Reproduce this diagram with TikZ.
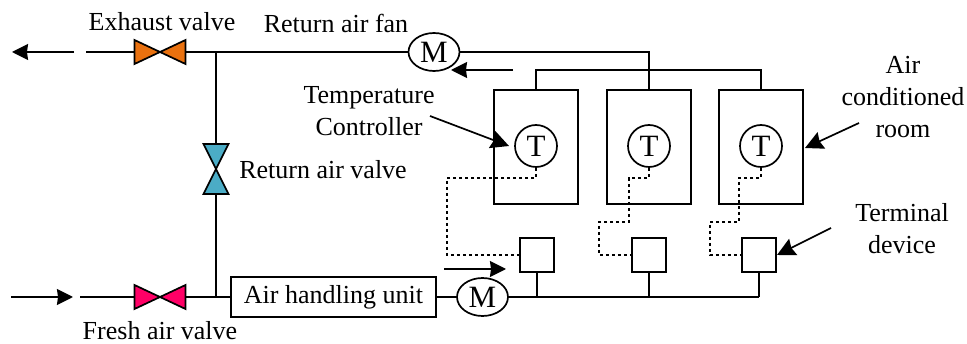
\documentclass[tikz,border=0pt]{standalone}
\usepackage{fontspec}
\setmainfont{Liberation Serif}
\usepackage{xcolor}
\usetikzlibrary{arrows.meta, positioning, calc, shapes.geometric}
\definecolor{exhaustc}{RGB}{233,113,15}
\definecolor{returnc}{RGB}{75,172,198}
\definecolor{freshc}{RGB}{255,0,102}
\tikzset{
  duct/.style={line width=1.7pt, black},
  valve/.style={inner sep=0pt, outer sep=0pt},
  hvalve/.style={valve, minimum width=51pt, minimum height=24pt},
  vvalve/.style={valve, minimum width=25pt, minimum height=50pt},
  room/.style={draw, line width=1.7pt, minimum width=84pt, minimum height=114pt, inner sep=0pt},
  sensor/.style={draw, circle, line width=1.7pt, minimum size=42pt, inner sep=0pt,
                 font=\fontsize{31}{32}\selectfont},
  motor/.style={draw, ellipse, line width=1.7pt, minimum width=51pt, minimum height=38pt, inner sep=0pt,
                font=\fontsize{31}{32}\selectfont},
  terminal/.style={draw, line width=1.7pt, minimum size=34pt, inner sep=0pt},
  label/.style={font=\fontsize{26}{32}\selectfont, align=center, inner sep=0pt},
  flow/.style={-{Stealth[length=16pt, width=16pt, inset=1pt]}, line width=1.7pt},
  leader/.style={-{Stealth[length=18pt, width=18pt, inset=2pt]}, line width=1.7pt},
  signal/.style={line width=1.7pt, dash pattern=on 3pt off 3pt}
}
\begin{document}
\begin{tikzpicture}[x=1pt, y=-1pt]
  \useasboundingbox (0,0) rectangle (967,344);
  \node[hvalve] (exv) at (160,52) {};
  \node[hvalve] (frv) at (160,297) {};
  \node[vvalve] (rev) at (216,169) {};
  \node[motor] (fan) at (434,52) {M};
  \node[motor] (sup) at (482.5,297) {M};
  \node[draw, line width=1.7pt, minimum width=205pt, minimum height=40pt, inner sep=0pt,
        font=\fontsize{26}{30}\selectfont] (ahu) at (333.5,297) {Air handling unit};
  \foreach \n/\x in {1/536, 2/649, 3/761} {
    \node[room] (rm\n) at (\x,147) {};
    \node[sensor] (tc\n) at (\x,146) {T};
  }
  \foreach \n/\x in {1/537, 2/649, 3/759}
    \node[terminal] (td\n) at (\x,255) {};

  \coordinate (exo) at (86,52);
  \coordinate (jtop) at (216,52);
  \coordinate (jbot) at (216,297);
  \coordinate (fro) at (80,297);
  \coordinate (busend) at (td3.south |- sup.east);

  \foreach \v/\c in {exv/exhaustc, frv/freshc}
    \draw[duct, fill=\c] (\v.south west) -- (\v.north east) -- (\v.south east) -- (\v.north west) -- cycle;
  \draw[duct, fill=returnc] (rev.north west) -- (rev.north east) -- (rev.south west) -- (rev.south east) -- cycle;

  \draw[duct] (exo) -- (exv.west);
  \draw[duct] (exv.east) -- (fan.west);
  \draw[duct] (fan.east) -| (rm2.north);
  \draw[duct] (rm1.north) -- ++(0,-19) -| (rm3.north);
  \draw[duct] (jtop) -- (rev.north);
  \draw[duct] (rev.south) -- (jbot);
  \draw[duct] (fro) -- (frv.west);
  \draw[duct] (frv.east) -- (ahu.west);
  \draw[duct] (ahu.east) -- (sup.west);
  \draw[duct] (sup.east) -- (busend);
  \foreach \n in {1,2,3}
    \draw[duct] (td\n.south) -- (td\n.south |- sup.east);

  \coordinate (a1s) at (74,52);
  \coordinate (a1e) at (12,52);
  \coordinate (a2s) at (513,70);
  \coordinate (a2e) at (451,70);
  \coordinate (a3s) at (11,297);
  \coordinate (a3e) at (73,297);
  \coordinate (a4s) at (444,269);
  \coordinate (a4e) at (506,269);
  \foreach \a/\b in {a1s/a1e, a2s/a2e, a3s/a3e, a4s/a4e}
    \draw[flow] (\a) -- (\b);

  \draw[signal] (tc1.south) |- (447,178) |- (td1.west);
  \draw[signal] (tc2.south) |- (629,178) |- (599,222) |- (td2.west);
  \draw[signal] (tc3.south) |- (739,178) |- (710,222) |- (td3.west);

  \node[label] (lexv) at (162,22) {Exhaust valve};
  \node[label] (lfan) at (336,23) {Return air fan};
  \node[label] (lrev) at (323,170) {Return air valve};
  \node[label] (lfrv) at (160,331) {Fresh air valve};
  \node[label] (ltc) at (369,111) {Temperature\\Controller};
  \node[label] (lrm) at (903,97) {Air\\conditioned\\room};
  \node[label] (ltd) at (902,229) {Terminal\\device};

  \coordinate (l1s) at (430,116);
  \coordinate (l1e) at (509,146);
  \coordinate (l2s) at (859,123);
  \coordinate (l2e) at (805,148);
  \coordinate (l3s) at (831,228);
  \coordinate (l3e) at (777,255);
  \foreach \a/\b in {l1s/l1e, l2s/l2e, l3s/l3e}
    \draw[leader] (\a) -- (\b);
\end{tikzpicture}
\end{document}
